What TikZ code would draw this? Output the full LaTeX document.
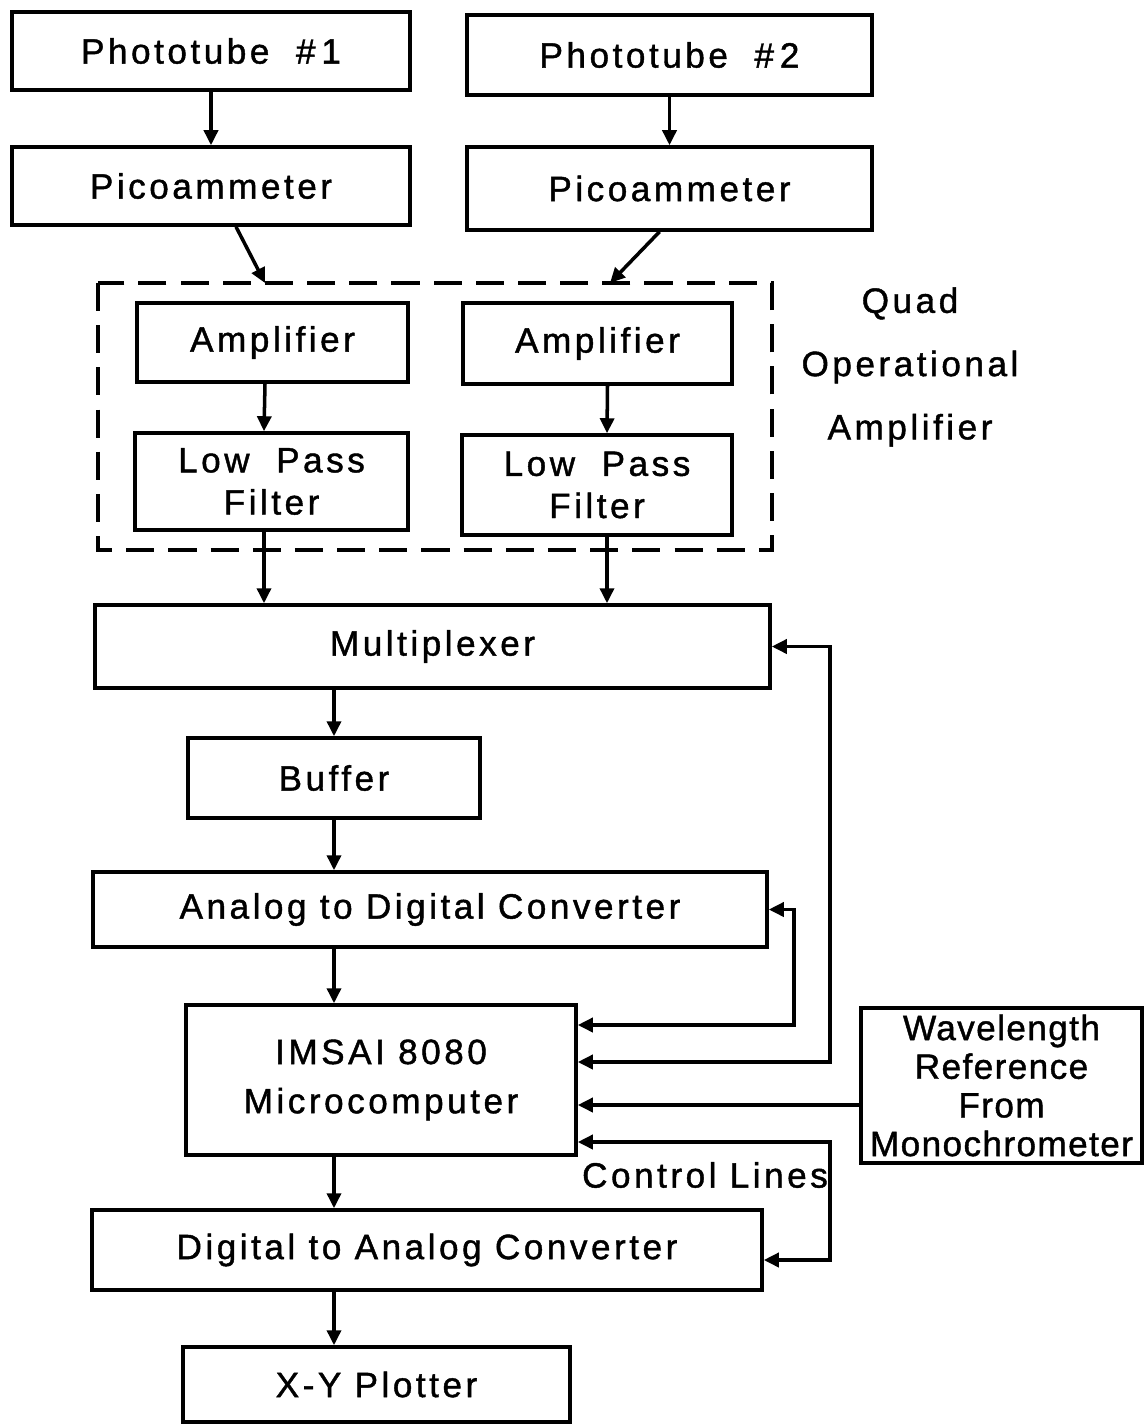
\documentclass[tikz,border=0pt]{standalone}
\usepackage{fontspec}
\newfontfamily\blkfont{Liberation Sans}[LetterSpace=10,FakeBold=1.2]
\newfontfamily\tightfont{Liberation Sans}[LetterSpace=4,FakeBold=1.2]
\usepackage{tikz}
\usetikzlibrary{arrows.meta,positioning,calc}
\tikzset{
  >={Triangle[length=3mm,width=2.8mm]},
  blk/.style  ={draw,line width=2pt,font=\blkfont\fontsize{20}{24}\selectfont,
                align=center,inner sep=0pt},
  lbl/.style  ={font=\blkfont\fontsize{20}{24}\selectfont,align=center,inner sep=1pt},
  flow/.style ={->,line width=2pt},
  quadbox/.style={draw,line width=2pt,dash pattern=on 16pt off 8pt},
}

\begin{document}
\begin{tikzpicture}
\useasboundingbox (0,0) rectangle (22.9,-28.54);
% detectors
\node[blk,minimum width=7.96cm,minimum height=1.56cm] (pt1) at (4.22,-1.02) {Phototube \ \#\,1};
\node[blk,minimum width=8.10cm,minimum height=1.60cm] (pt2) at (13.39,-1.10) {Phototube \ \#\,2};
\node[blk,minimum width=7.96cm,minimum height=1.56cm] (pa1) at (4.22,-3.72) {Picoammeter};
\node[blk,minimum width=8.10cm,minimum height=1.66cm] (pa2) at (13.39,-3.77) {Picoammeter};
% quad op amp
\draw[quadbox] (1.96,-5.66) rectangle (15.44,-11.00);
\coordinate (qtop) at (0,-5.66);
\node[blk,minimum width=5.42cm,minimum height=1.58cm] (amp1) at (5.45,-6.85) {Amplifier};
\node[blk,minimum width=5.38cm,minimum height=1.62cm] (amp2) at (11.95,-6.87) {Amplifier};
\node[blk,minimum width=5.46cm,minimum height=1.94cm] (lpf1) at (5.43,-9.63) {Low \ Pass\\Filter};
\node[blk,minimum width=5.40cm,minimum height=2.00cm] (lpf2) at (11.94,-9.70) {Low \ Pass\\Filter};
\node[lbl] (quad) at (18.2,-7.34) {Quad\\[12pt]Operational\\[12pt]Amplifier};
% signal chain
\node[blk,minimum width=13.50cm,minimum height=1.66cm] (mux) at (8.65,-12.93) {Multiplexer};
\node[blk,minimum width=5.84cm,minimum height=1.60cm] (buf) at (6.68,-15.56) {Buffer};
\node[blk,minimum width=13.48cm,minimum height=1.50cm] (adc) at (8.60,-18.19) {Analog to Digital Converter};
\node[blk,minimum width=7.80cm,minimum height=3.00cm] (imsai) at (7.62,-21.60) {IMSAI 8080\\[4pt]Microcomputer};
\node[blk,minimum width=13.40cm,minimum height=1.60cm] (dac) at (8.54,-25.00) {Digital to Analog Converter};
\node[blk,minimum width=7.74cm,minimum height=1.50cm] (xy) at (7.53,-27.69) {X-Y Plotter};
\node[blk,font=\tightfont\fontsize{20}{24}\selectfont,minimum width=5.62cm,minimum height=3.10cm] (wl) at (20.03,-21.71)
 {Wavelength\\[-2pt]Reference\\[-2pt]From\\[-2pt]Monochrometer};
\node[lbl] (ctl) at (14.10,-23.50) {Control Lines};
\draw[flow] (pt1) -- (pa1);
\draw[flow] (pt2) -- (pa2);
\draw[flow] ([xshift=5mm]pa1.south) -- ([xshift=-1.5mm]amp1.north |- qtop);
\draw[flow] ([xshift=-2mm]pa2.south) -- ([xshift=2.5mm]amp2.north |- qtop);
\draw[flow] ([xshift=-1.5mm]amp1.south) -- ([xshift=-1.5mm]lpf1.north);
\draw[flow] ([xshift=2mm]amp2.south) -- ([xshift=2mm]lpf2.north);
\draw[flow] ([xshift=-1.5mm]lpf1.south) -- ([xshift=-1.5mm]lpf1.south |- mux.north);
\draw[flow] ([xshift=2mm]lpf2.south) -- ([xshift=2mm]lpf2.south |- mux.north);
\foreach \a/\b in {mux/buf,buf/adc,adc/imsai,imsai/dac,dac/xy}
  \draw[flow] (\a.south -| buf.center) -- (\b.north -| buf.center);
% lines into the computer
\coordinate (i1) at ([yshift=11mm]imsai.east);
\coordinate (i2) at ([yshift=3.6mm]imsai.east);
\coordinate (i3) at ([yshift=-5mm]imsai.east);
\coordinate (i4) at ([yshift=-12.4mm]imsai.east);
\draw[flow,<->] (adc.east) -- ++(0.5,0) |- (i1);
\draw[flow,<->] (mux.east) -- ++(1.16,0) |- (i2);
\draw[flow] (wl.west |- i3) -- (i3);
\draw[flow,<->] ([yshift=-2mm]dac.east) -- ++(1.32,0) |- (i4);
\end{tikzpicture}
\end{document}
